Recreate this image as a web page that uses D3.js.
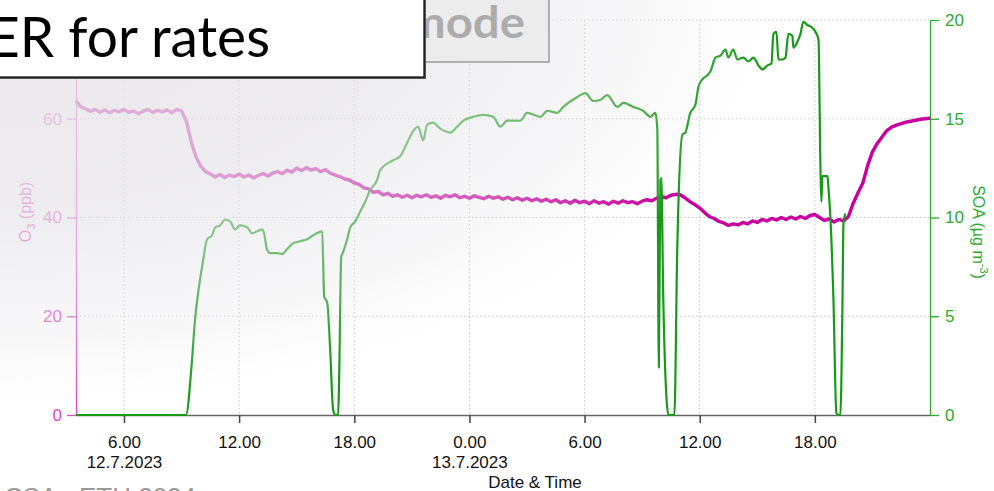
<!DOCTYPE html>
<html>
<head>
<meta charset="utf-8">
<script src="https://cdn.jsdelivr.net/npm/d3@7"></script>
<style>
html, body { margin: 0; padding: 0; background: #fff; overflow: hidden; }
svg { display: block; }
</style>
</head>
<body>
<svg id="chart"></svg>
<script>
// hours counted from 12.7.2023 0:00
const o3Start = 3.5
const o3Step = 0.25
const o3Values = [
    63.6, 62.4,
    62.0, 61.5, 61.9, 61.3,
    61.8, 61.2, 61.7, 61.4,
    61.9, 61.3, 61.6, 61.0,
    61.5, 61.9, 61.3, 61.7,
    61.4, 61.8, 61.2, 61.9,
    61.6, 59.5, 55.4, 52.3,
    50.4, 49.3, 48.8, 48.2,
    48.7, 48.1, 48.6, 48.3,
    48.8, 48.2, 48.6, 48.0,
    48.5, 48.9, 48.4, 49.0,
    49.3, 48.9, 49.6, 49.2,
    50.0, 49.5, 50.1, 49.6,
    49.9, 49.3, 49.7, 49.0,
    48.6, 48.3, 47.8, 47.6,
    47.0, 46.7, 46.0, 45.8,
    45.1, 45.3, 44.6, 44.9,
    44.3, 44.6, 44.1, 44.5,
    44.0, 44.5, 44.2, 44.6,
    44.1, 44.4, 43.9, 44.5,
    44.2, 44.6, 44.0, 44.3,
    43.9, 44.4, 44.1, 43.8,
    44.3, 43.9, 44.2, 43.7,
    44.1, 43.6, 44.0, 43.5,
    43.9, 43.4, 43.8, 43.3,
    43.7, 43.2, 43.6, 43.0,
    43.4, 42.9, 43.5, 43.0,
    43.3, 42.8, 43.4, 42.9,
    43.2, 42.7, 43.3, 42.9,
    43.4, 43.0, 43.2, 42.8,
    43.3, 43.6, 43.4, 43.9,
    44.2, 44.0, 44.5, 44.7,
    44.6, 43.9, 43.2, 42.6,
    41.9, 41.0, 40.2, 39.8,
    39.2, 38.9, 38.4, 38.7,
    38.5, 39.0, 38.7, 39.3,
    39.0, 39.6, 39.3, 39.8,
    39.5, 40.0, 39.6, 40.1,
    39.7, 40.2, 39.8, 40.4,
    40.6, 40.0, 39.4, 39.7,
    39.1, 39.6, 39.3, 40.2,
    42.9, 45.0, 47.0, 50.5,
    53.3, 55.0, 56.3, 57.6,
    58.3, 58.7, 59.0, 59.3,
    59.5, 59.7, 59.9, 60.0,
    60.1
]

const soaHours = [
    3.5, 9.23, 9.53, 9.70, 9.91, 10.12, 10.33, 10.59, 10.75, 11.01, 11.27, 11.53, 11.79,
    12.05, 12.42, 12.68, 12.94, 13.20, 13.30, 13.46, 13.61, 13.98, 14.24, 14.50, 14.81,
    15.18, 15.54, 15.86, 16.33, 16.38, 16.43, 16.59, 16.74, 16.90, 17.0, 17.16, 17.21,
    17.32, 17.42, 17.63, 17.79, 18.05, 18.31, 18.57, 18.83, 19.19, 19.35, 20.03, 20.39,
    20.76, 21.02, 21.33, 21.59, 21.80, 22.11, 22.48, 23.0, 23.36, 23.68, 24.2, 24.72,
    25.24, 25.61, 25.97, 26.65, 27.01, 27.69, 28.06, 28.58, 28.89, 29.62, 30.04, 30.46,
    30.82, 31.18, 31.71, 32.02, 32.54, 33.06, 33.43, 33.69, 33.79, 33.87, 33.95, 34.0,
    34.1, 34.26, 34.37, 34.68, 34.83, 35.10, 35.25, 35.51, 35.77, 35.93, 36.14, 36.40,
    36.56, 36.82, 37.08, 37.34, 37.49, 37.75, 37.96, 38.28, 38.54, 38.80, 39.06, 39.27,
    39.53, 39.74, 39.84, 40.0, 40.10, 40.31, 40.47, 40.62, 40.83, 40.88, 41.09, 41.25,
    41.40, 41.61, 41.82, 42.03, 42.19, 42.29, 42.34, 42.39, 42.66, 42.71, 42.81, 42.97,
    43.12, 43.23, 43.33, 43.44, 43.49, 43.59
]
const soaValues = [
    0, 0, 2.6, 4.8, 6.5, 7.8, 8.9, 9.1, 9.5, 9.6, 9.9, 9.8, 9.4,
    9.6, 9.5, 9.2, 9.3, 9.4, 9.2, 8.35, 8.2, 8.2, 8.15, 8.4, 8.7,
    8.8, 8.9, 9.1, 9.3, 7.7, 6.0, 5.7, 3.4, 0.25, 0, 0, 1.8,
    8.0, 8.25, 8.9, 9.5, 9.8, 10.3, 10.8, 11.4, 11.9, 12.4, 12.9, 13.1,
    13.8, 14.3, 14.6, 13.9, 14.7, 14.8, 14.5, 14.3, 14.6, 14.9, 15.1, 15.2,
    15.1, 14.6, 14.9, 14.9, 15.3, 15.1, 15.4, 15.3, 15.6, 16.1, 16.3, 15.9,
    15.95, 16.2, 15.6, 15.8, 15.6, 15.4, 15.1, 15.3, 14.5, 2.4, 11.9, 12.0,
    6.0, 1.0, 0, 0, 8.4, 14.2, 14.3, 15.3, 15.7, 16.6, 17.0, 17.2,
    17.4, 18.1, 18.2, 18.5, 18.1, 18.5, 18.0, 18.1, 17.9, 18.1, 17.7, 17.5,
    17.7, 17.8, 19.3, 19.4, 18.0, 18.0, 18.1, 19.3, 19.2, 18.6, 18.9, 19.3,
    19.9, 19.75, 19.65, 19.4, 19.0, 12.6, 10.8, 12.1, 12.1, 11.5, 10.0, 5.8,
    0.1, 0, 0, 5.8, 9.7, 10.2
]

const xTickHours = [6, 12, 18, 24, 30, 36, 42]
const xTickTimes = ['6.00', '12.00', '18.00', '0.00', '6.00', '12.00', '18.00']
const xTickDates = ['12.7.2023', '', '', '13.7.2023', '', '', '']
const o3Ticks = [0, 20, 40, 60]
const o3Grid = [20, 40, 60, 80]
const soaTicks = [0, 5, 10, 15, 20]

const width = 994
const height = 491
const plotLeft = 76, plotRight = 930, plotTop = 20, plotBottom = 415
const font = '"Liberation Sans", Arial, sans-serif'
const magenta = '#c800a0'
const pinkAxis = '#e048c4'
const green = '#179a17'
const greenAxis = '#2ea82e'

const t0 = new Date(2023, 6, 12)
const toDate = h => new Date(t0.getTime() + h * 3600e3)

const svg = d3.select('#chart').attr('width', width).attr('height', height)

const x = d3.scaleTime().domain([toDate(3.5), toDate(48)]).range([plotLeft, plotRight])
const yO3 = d3.scaleLinear().domain([0, 80]).range([plotBottom, plotTop])
const ySoa = d3.scaleLinear().domain([0, 20]).range([plotBottom, plotTop])

svg.append('rect').attr('width', width).attr('height', height).attr('fill', '#fff')

// dotted grid
const grid = svg.append('g').attr('stroke', '#c6c6c6').attr('stroke-width', 1).attr('stroke-dasharray', '1.5,2.5')
grid.selectAll('.vg').data(xTickHours).join('line')
    .attr('x1', d => x(toDate(d))).attr('x2', d => x(toDate(d)))
    .attr('y1', plotTop).attr('y2', plotBottom)
grid.selectAll('.hg').data(o3Grid).join('line')
    .attr('x1', plotLeft).attr('x2', plotRight)
    .attr('y1', d => yO3(d)).attr('y2', d => yO3(d))

// x axis
const xAxis = svg.append('g')
    .attr('transform', `translate(0,${plotBottom})`)
    .call(d3.axisBottom(x)
        .tickValues(xTickHours.map(toDate))
        .tickSize(8)
        .tickSizeOuter(0)
        .tickFormat((d, i) => xTickTimes[i]))
xAxis.attr('font-family', font).attr('font-size', 17)
xAxis.select('.domain').attr('stroke', '#666').attr('stroke-width', 1.5)
xAxis.selectAll('.tick line').attr('stroke', '#444').attr('stroke-width', 1.5)
xAxis.selectAll('.tick text').attr('fill', '#111').attr('y', 33).attr('dy', null)
xAxis.selectAll('.tick').append('text')
    .attr('fill', '#111').attr('y', 53).attr('text-anchor', 'middle')
    .text((d, i) => xTickDates[i])

// left axis (O3), drawn up to the top of the plot
const yAxisL = svg.append('g')
    .attr('transform', `translate(${plotLeft},0)`)
    .call(d3.axisLeft(yO3).tickValues(o3Ticks).tickSize(9).tickPadding(5).tickSizeOuter(0))
yAxisL.attr('font-family', font).attr('font-size', 17)
yAxisL.select('.domain').attr('stroke', pinkAxis).attr('stroke-width', 1.3)
yAxisL.selectAll('.tick line').attr('stroke', pinkAxis).attr('stroke-width', 1.3)
yAxisL.selectAll('.tick text').attr('fill', pinkAxis)

// right axis (SOA)
const yAxisR = svg.append('g')
    .attr('transform', `translate(${plotRight},0)`)
    .call(d3.axisRight(ySoa).tickValues(soaTicks).tickSize(9).tickPadding(6).tickSizeOuter(0))
yAxisR.attr('font-family', font).attr('font-size', 17)
yAxisR.select('.domain').attr('stroke', greenAxis).attr('stroke-width', 1.3)
yAxisR.selectAll('.tick line').attr('stroke', greenAxis).attr('stroke-width', 1.3)
yAxisR.selectAll('.tick text').attr('fill', greenAxis)

// axis titles
const tL = svg.append('text')
    .attr('transform', 'translate(31,212) rotate(-90)')
    .attr('text-anchor', 'middle').attr('font-family', font).attr('font-size', 16)
    .attr('fill', pinkAxis)
tL.append('tspan').text('O')
tL.append('tspan').attr('font-size', 11).attr('dy', 4).text('3')
tL.append('tspan').attr('dy', -4).text(' (ppb)')

const tR = svg.append('text')
    .attr('transform', 'translate(973,232) rotate(90)')
    .attr('text-anchor', 'middle').attr('font-family', font).attr('font-size', 16)
    .attr('fill', greenAxis)
tR.append('tspan').text('SOA (µg m')
tR.append('tspan').attr('font-size', 11).attr('dy', -7).text('-3')
tR.append('tspan').attr('dy', 7).text(')')

svg.append('text')
    .attr('x', 535).attr('y', 488)
    .attr('text-anchor', 'middle').attr('font-family', font).attr('font-size', 17)
    .attr('fill', '#111')
    .text('Date & Time')

// series
const o3Data = o3Values.map((v, i) => ({ t: toDate(o3Start + i * o3Step), v }))
const soaData = soaHours.map((h, i) => ({ t: toDate(h), v: soaValues[i] }))

svg.append('path')
    .datum(o3Data)
    .attr('fill', 'none')
    .attr('stroke', magenta)
    .attr('stroke-width', 3.4)
    .attr('stroke-linejoin', 'round')
    .attr('d', d3.line().x(d => x(d.t)).y(d => yO3(d.v)))

svg.append('path')
    .datum(soaData)
    .attr('fill', 'none')
    .attr('stroke', green)
    .attr('stroke-width', 2.2)
    .attr('stroke-linejoin', 'round')
    .attr('d', d3.line().x(d => x(d.t)).y(d => ySoa(d.v)).curve(d3.curveMonotoneX))

// slide fade in the upper left
const defs = svg.append('defs')
const grad = defs.append('radialGradient')
    .attr('id', 'fade')
    .attr('gradientUnits', 'userSpaceOnUse')
    .attr('cx', 0).attr('cy', 0).attr('r', 1).attr('fx', 0).attr('fy', 0)
    .attr('gradientTransform', 'scale(800,420)')
grad.append('stop').attr('offset', 0).attr('stop-color', '#e6e4e8').attr('stop-opacity', 0.85)
grad.append('stop').attr('offset', 0.5).attr('stop-color', '#e6e4e8').attr('stop-opacity', 0.7)
grad.append('stop').attr('offset', 0.8).attr('stop-color', '#e8e6ea').attr('stop-opacity', 0.32)
grad.append('stop').attr('offset', 0.97).attr('stop-color', '#eeeeee').attr('stop-opacity', 0)
svg.append('rect').attr('width', width).attr('height', height).attr('fill', 'url(#fade)')

// grey "mode" box behind the white one
svg.append('rect')
    .attr('x', 380).attr('y', -5).attr('width', 169).attr('height', 67)
    .attr('fill', '#ececec').attr('stroke', '#9a9a9a').attr('stroke-width', 1.5)
svg.append('text')
    .attr('x', 406).attr('y', 38)
    .attr('font-family', 'Lato, "Open Sans", sans-serif').attr('font-weight', 'bold').attr('font-size', 44)
    .attr('textLength', 119).attr('lengthAdjust', 'spacingAndGlyphs')
    .attr('fill', '#acacac')
    .text('mode')

// white title box
svg.append('rect')
    .attr('x', -4).attr('y', -4).attr('width', 430).attr('height', 83)
    .attr('fill', '#555')
svg.append('rect')
    .attr('x', -4).attr('y', -4).attr('width', 428).attr('height', 81)
    .attr('fill', '#fff').attr('stroke', '#000').attr('stroke-width', 1.2)
svg.append('text')
    .attr('x', -12).attr('y', 57)
    .attr('font-family', 'Lato, "Open Sans", sans-serif').attr('font-size', 56)
    .attr('textLength', 282).attr('lengthAdjust', 'spacingAndGlyphs')
    .attr('fill', '#000')
    .text('ER for rates')

// cut-off footer on the slide
svg.append('text')
    .attr('x', 4).attr('y', 506)
    .attr('font-family', font).attr('font-size', 26)
    .attr('fill', '#9a9a9a')
    .attr('textLength', 192).attr('lengthAdjust', 'spacingAndGlyphs')
    .text('CSA - ETH 2024')
</script>
</body>
</html>
